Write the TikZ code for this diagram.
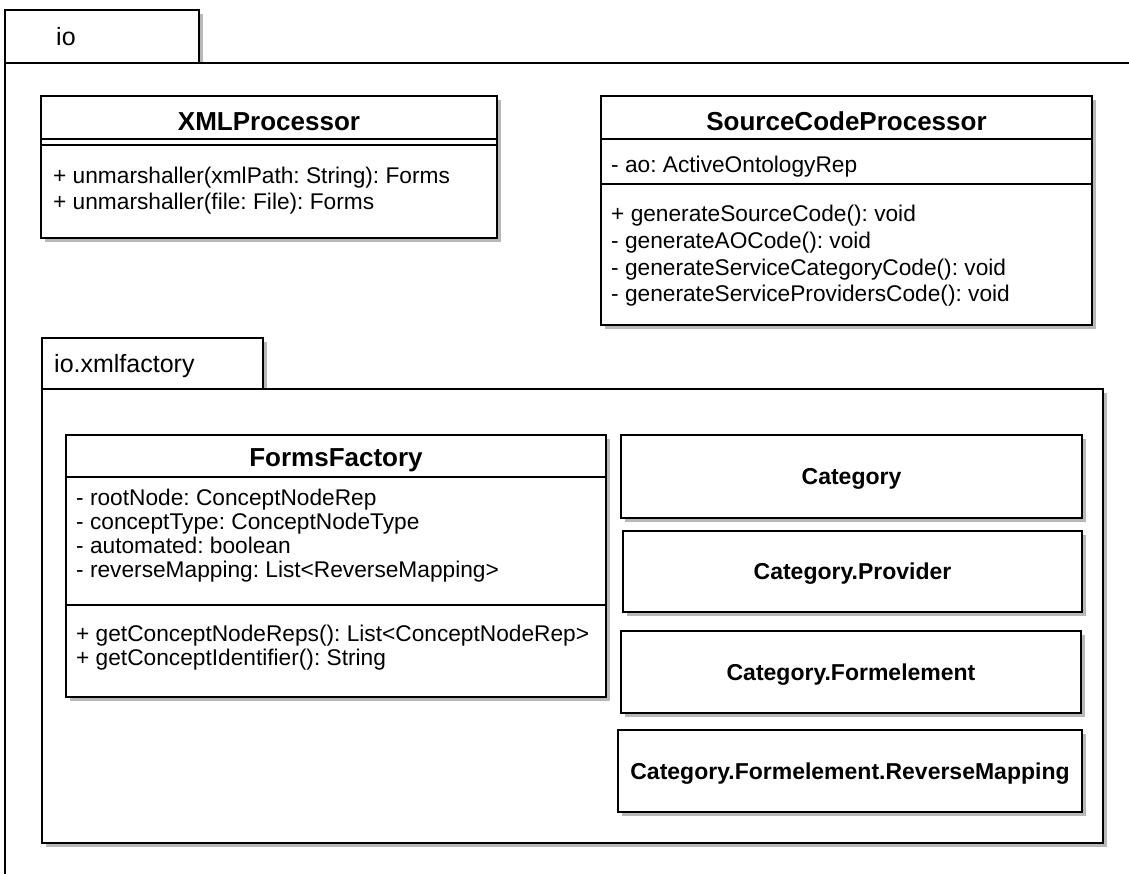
\documentclass[tikz,border=0pt]{standalone}
\usepackage{fontspec}
\setmainfont{Liberation Sans}
\usetikzlibrary{shadows}
\frenchspacing
\tikzset{
  umlbox/.style={draw=black, line width=1.5pt, fill=white, anchor=north west,
    inner sep=0pt, outer sep=0pt,
    drop shadow={shadow xshift=3.5pt, shadow yshift=-3.5pt, fill=black!28, opacity=1}},
  sep/.style={line width=1.5pt},
  member/.style={anchor=base west, inner sep=0pt, font=\fontsize{22.7}{27}\selectfont},
  classname/.style={anchor=base, inner sep=0pt, font=\fontsize{26}{30}\selectfont\bfseries},
  plainname/.style={anchor=base, inner sep=0pt, font=\fontsize{23}{27}\selectfont\bfseries},
  pkgname/.style={anchor=base west, inner sep=0pt, font=\fontsize{25}{29}\selectfont},
}
\begin{document}
\begin{tikzpicture}[x=1pt,y=-1pt]
\path[use as bounding box] (0,0) rectangle (1129,873);
\clip (0,0) rectangle (1129,873);

% package io
\node[umlbox, minimum width=194pt, minimum height=53pt] (iotab) at (5,10) {};
\node[umlbox, minimum width=1160pt, minimum height=840pt] (iobody) at (5,63) {};
\node[pkgname] (iolabel) at (56,45) {io};

% XMLProcessor
\node[umlbox, minimum width=456pt, minimum height=142pt] (xml) at (41,96) {};
\draw[sep] (xml.west |- 0,139) -- (xml.east |- 0,139);
\draw[sep] (xml.west |- 0,145) -- (xml.east |- 0,145);
\node[classname] (xmlname) at (xml.north |- 0,130) {XMLProcessor};
\node[member] (xmlm1) at (53,183) {+ unmarshaller(xmlPath: String): Forms};
\node[member] (xmlm2) at (53,209) {+ unmarshaller(file: File): Forms};

% SourceCodeProcessor
\node[umlbox, minimum width=491pt, minimum height=229pt] (scp) at (601,96) {};
\draw[sep] (scp.west |- 0,139) -- (scp.east |- 0,139);
\draw[sep] (scp.west |- 0,184) -- (scp.east |- 0,184);
\node[classname] (scpname) at (scp.north |- 0,130) {SourceCodeProcessor};
\node[member] (scpa1) at (611,172) {- ao: ActiveOntologyRep};
\node[member] (scpm1) at (611,221) {+ generateSourceCode(): void};
\node[member] (scpm2) at (611,248) {- generateAOCode(): void};
\node[member] (scpm3) at (611,275) {- generateServiceCategoryCode(): void};
\node[member] (scpm4) at (611,301.5) {- generateServiceProvidersCode(): void};

% package io.xmlfactory
\node[umlbox, minimum width=221pt, minimum height=51pt] (xftab) at (42,338) {};
\node[umlbox, minimum width=1061pt, minimum height=454pt] (xfbody) at (42,389) {};
\node[pkgname] (xflabel) at (54,372) {io.xmlfactory};

% FormsFactory
\node[umlbox, minimum width=540pt, minimum height=262pt] (ff) at (66,435) {};
\draw[sep] (ff.west |- 0,477) -- (ff.east |- 0,477);
\draw[sep] (ff.west |- 0,605) -- (ff.east |- 0,605);
\node[classname] (ffname) at (ff.north |- 0,466) {FormsFactory};
\node[member] (ffa1) at (76,505.5) {- rootNode: ConceptNodeRep};
\node[member] (ffa2) at (76,529.5) {- conceptType: ConceptNodeType};
\node[member] (ffa3) at (76,553.5) {- automated: boolean};
\node[member] (ffa4) at (76,577.5) {- reverseMapping: List<ReverseMapping>};
\node[member] (ffm1) at (76,641) {+ getConceptNodeReps(): List<ConceptNodeRep>};
\node[member] (ffm2) at (76,665) {+ getConceptIdentifier(): String};

% Category classes
\node[umlbox, minimum width=461pt, minimum height=83pt] (cat) at (621,435) {};
\node[plainname] (catname) at ([yshift=-8pt]cat.center) {Category};
\node[umlbox, minimum width=459pt, minimum height=81pt] (prov) at (623,531) {};
\node[plainname] (provname) at ([yshift=-8pt]prov.center) {Category.Provider};
\node[umlbox, minimum width=460pt, minimum height=82pt] (form) at (621,631) {};
\node[plainname] (formname) at ([yshift=-8pt]form.center) {Category.Formelement};
\node[umlbox, minimum width=464pt, minimum height=82pt] (rmap) at (618,730) {};
\node[plainname] (rmapname) at ([yshift=-8pt]rmap.center) {Category.Formelement.ReverseMapping};
\end{tikzpicture}
\end{document}
